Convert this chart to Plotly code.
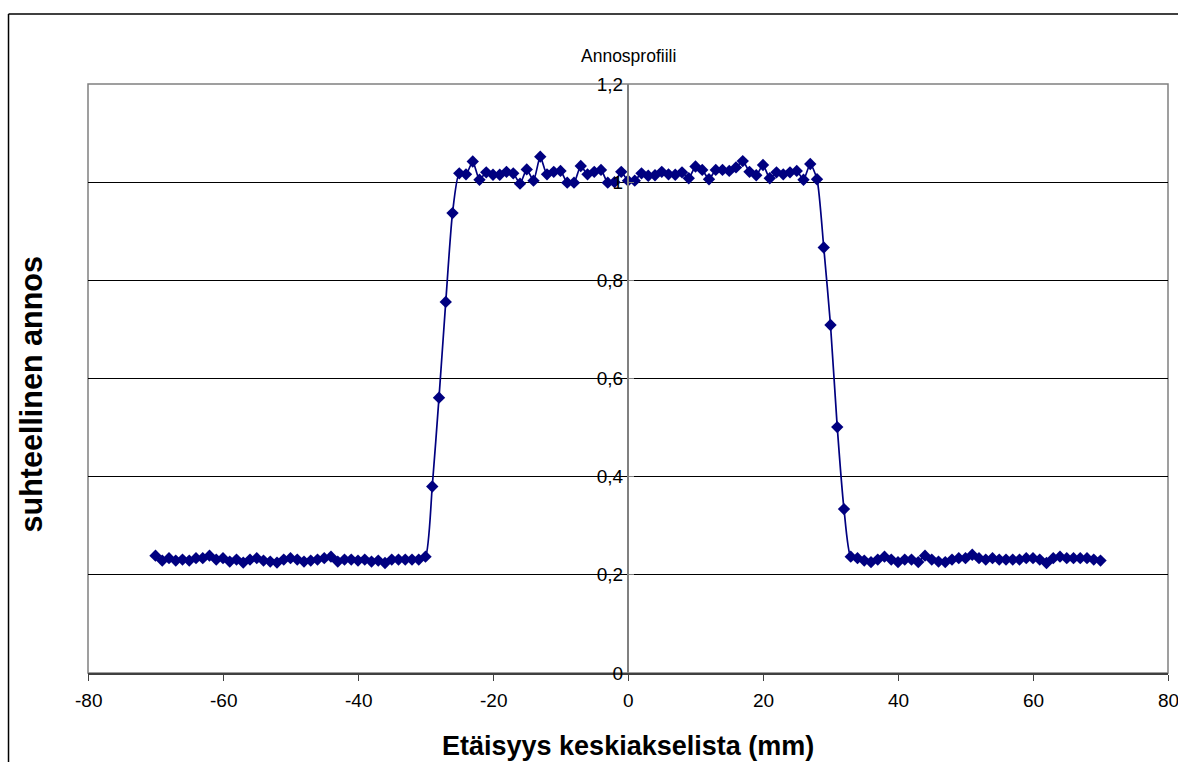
import plotly.graph_objects as go

# Distance from the central axis (mm)
x_mm = list(range(-70, 71))

# Relative dose values
left_base = [0.239, 0.229, 0.234, 0.229, 0.231, 0.229, 0.234, 0.234, 0.239, 0.231,
             0.234, 0.227, 0.231, 0.225, 0.231, 0.234, 0.229, 0.227, 0.225, 0.231,
             0.234, 0.231, 0.227, 0.229, 0.231, 0.234, 0.237, 0.227, 0.231, 0.231,
             0.229, 0.231, 0.227, 0.229, 0.224, 0.231, 0.231, 0.231, 0.231, 0.231]  # -70..-31
rise = [0.237, 0.38, 0.561, 0.756, 0.937]  # -30..-26
plateau = [1.018, 1.016, 1.042, 1.005, 1.02, 1.015, 1.015, 1.021, 1.018, 0.997,
           1.026, 1.003, 1.052, 1.016, 1.021, 1.023, 0.999, 0.999, 1.033, 1.016,
           1.021, 1.025, 0.999, 1.0, 1.021, 1.003, 1.003, 1.018, 1.013, 1.014,
           1.021, 1.016, 1.015, 1.02, 1.008, 1.032, 1.025, 1.006, 1.025, 1.025,
           1.023, 1.03, 1.043, 1.021, 1.014, 1.035, 1.008, 1.02, 1.016, 1.02,
           1.023, 1.005, 1.037, 1.006]  # -25..28
fall = [0.867, 0.709, 0.501, 0.334]  # 29..32
right_base = [0.237, 0.234, 0.229, 0.226, 0.231, 0.237, 0.231, 0.226, 0.231, 0.231,
              0.226, 0.239, 0.231, 0.227, 0.226, 0.231, 0.234, 0.234, 0.241, 0.234,
              0.231, 0.234, 0.231, 0.231, 0.231, 0.231, 0.234, 0.234, 0.231, 0.224,
              0.234, 0.237, 0.234, 0.234, 0.234, 0.234, 0.231, 0.229]  # 33..70
dose = left_base + rise + plateau + fall + right_base

x_tick_vals = [-80, -60, -40, -20, 0, 20, 40, 60, 80]
x_tick_text = ["-80", "-60", "-40", "-20", "0", "20", "40", "60", "80"]
y_tick_vals = [0, 0.2, 0.4, 0.6, 0.8, 1.0, 1.2]
y_tick_text = ["0", "0,2", "0,4", "0,6", "0,8", "1", "1,2"]

title_text = "Annosprofiili"
x_title = "Etäisyys keskiakselista (mm)"
y_title = "suhteellinen annos"

navy = "#000080"
font_family = "Liberation Sans, Arial, sans-serif"

fig = go.Figure()
fig.add_trace(go.Scatter(
    x=x_mm, y=dose, mode="lines+markers",
    line=dict(color=navy, width=1.7, shape="spline", smoothing=0.6),
    marker=dict(symbol="diamond", size=9.5, color=navy),
    showlegend=False, hoverinfo="x+y",
))

# x tick labels as annotations so the "80" at the right edge stays visible
x_tick_annotations = [
    dict(text=t, xref="x", yref="paper", x=v, y=-0.0255,
         xanchor="center", yanchor="top", showarrow=False,
         font=dict(size=19))
    for v, t in zip(x_tick_vals, x_tick_text)
]

fig.update_layout(
    width=1178, height=762,
    margin=dict(l=88, r=10, t=84, b=89, autoexpand=False),
    paper_bgcolor="white", plot_bgcolor="white",
    font=dict(family=font_family, size=19, color="black"),
    xaxis=dict(
        range=[-80, 80], tickvals=x_tick_vals, showticklabels=False,
        showgrid=False, zeroline=False, automargin=False,
        showline=True, linecolor="#404040", linewidth=1.5,
        ticks="outside", ticklen=6, tickcolor="#404040",
    ),
    yaxis=dict(
        range=[0, 1.2], tickvals=y_tick_vals, ticktext=y_tick_text,
        anchor="free", position=0.5, automargin=False,
        showgrid=True, gridcolor="black", gridwidth=1,
        zeroline=False,
        showline=True, linecolor="#808080", linewidth=2,
        ticks="inside", ticklen=5, tickcolor="#808080",
        tickfont=dict(size=19),
    ),
    shapes=[
        dict(type="rect", xref="paper", yref="paper", x0=0, x1=1, y0=0, y1=1,
             line=dict(color="#808080", width=1.5), layer="below"),
        dict(type="line", xref="paper", yref="paper", x0=-0.0736, x1=1.05, y0=1.1187, y1=1.1187,
             line=dict(color="black", width=1.5)),
        dict(type="line", xref="paper", yref="paper", x0=-0.0736, x1=-0.0736, y0=1.1187, y1=-0.3,
             line=dict(color="black", width=1.5)),
    ],
    annotations=x_tick_annotations + [
        dict(text=title_text, xref="paper", yref="paper", x=0.5, y=1.0476,
             xanchor="center", yanchor="middle", showarrow=False,
             font=dict(size=17.5)),
        dict(text="<b>" + x_title + "</b>", xref="paper", yref="paper", x=0.5, y=-0.124,
             xanchor="center", yanchor="middle", showarrow=False,
             font=dict(size=27)),
        dict(text="<b>" + y_title + "</b>", xref="paper", yref="paper", x=-0.0528, y=0.473,
             xanchor="center", yanchor="middle", showarrow=False, textangle=-90,
             font=dict(size=30.5)),
    ],
)

fig.write_html("out.html", config={"displayModeBar": False},
               post_script="document.body.style.margin='0';")
